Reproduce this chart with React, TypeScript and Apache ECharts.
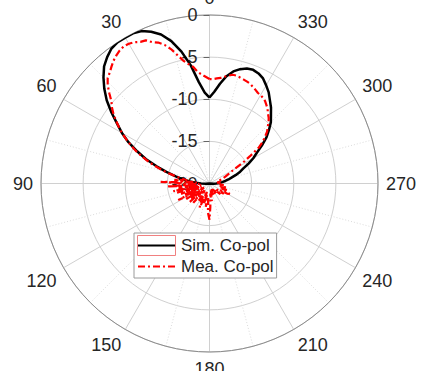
import React, { useEffect, useRef } from 'react';
import * as echarts from 'echarts';

const seriesNames = ['Sim. Co-pol', 'Mea. Co-pol'];

const simAngle = [0, 3, 6, 9, 12, 15, 18, 21, 24, 27, 30, 33, 36, 39, 42, 45, 48, 51, 54, 57, 60, 63, 66, 69, 72, 75, 78, 81, 84, 87, 90, 93, 96, 120, 150, 180, 210, 240, 264, 267, 270, 273, 276, 279, 282, 285, 288, 291, 294, 297, 300, 303, 306, 309, 312, 315, 318, 321, 324, 327, 330, 333, 336, 339, 342, 345, 348, 351, 354, 357, 360];
const simDb = [-9.8, -9.2, -7.9, -5.8, -4.0, -2.5, -1.4, -0.7, -0.2, 0, 0, 0, -0.2, -0.7, -1.3, -2.2, -3.2, -4.3, -5.6, -6.9, -8.0, -9.2, -10.6, -11.9, -13.4, -14.7, -15.9, -16.8, -17.6, -18.4, -19.0, -19.6, -20, -20, -20, -20, -20, -20, -20, -19.5, -19.2, -18.8, -18.5, -18.1, -17.7, -17.3, -16.7, -16.1, -15.6, -14.8, -14.0, -13.3, -12.3, -11.3, -10.5, -9.7, -9.1, -8.4, -7.8, -7.1, -6.55, -6.0, -5.7, -5.55, -5.65, -5.95, -6.4, -7.1, -8.1, -9.1, -9.8];

const meaAngle = [0, 3, 6, 8, 10, 12, 14, 16, 18, 20, 22, 24, 26, 28, 30, 32, 34, 36, 38, 40, 42, 44, 46, 48, 50, 52, 54, 56, 58, 60, 62, 64, 66, 68, 70, 72, 74, 76, 78, 80, 82,
  84, 86, 88, 90, 92, 94, 96, 98, 100, 102, 104, 106, 108, 110, 112, 114, 116, 118, 120, 122, 124, 126, 128, 130, 133, 136, 140, 144, 148, 152, 155, 158, 162, 165, 168, 171, 174, 177, 180, 182, 185, 188, 192, 196, 200, 205, 210, 215, 220, 225, 230, 234, 237, 240, 243, 246, 249, 252, 256, 260, 264, 268, 272, 276, 280, 285, 290, 294, 297, 300,
  302, 304, 306, 308, 310, 312, 314, 316, 318, 320, 322, 324, 326, 328, 330, 332, 334, 336, 338, 340, 342, 344, 346, 348, 350, 352, 354, 356, 358, 360];
const meaDb = [-7.6, -7.2, -6.7, -6.0, -5.6, -5.1, -4.3, -3.4, -2.7, -2.2, -1.9, -1.4, -1.3, -1.0, -0.85, -0.8, -0.95, -1.2, -1.5, -1.9, -2.3, -2.6, -3.2, -4.0, -4.8, -5.3, -5.9, -6.6, -7.3, -8.0, -8.8, -9.6, -10.4, -11.3, -12.2, -13.1, -14.1, -15.0, -15.9, -16.7, -17.3,
  -15.8, -18.5, -14.2, -17.0, -18.8, -15.0, -17.8, -16.3, -19.0, -15.6, -18.2, -16.0, -18.8, -16.4, -19.0, -16.8, -18.2, -15.8, -17.4, -18.6, -16.6, -19.2, -17.2, -18.4, -16.8, -18.8, -17.0, -19.0, -17.6, -18.8, -17.4, -16.9, -19.0, -17.5, -18.6, -17.2, -18.4, -16.5, -15.7, -17.2, -18.8, -17.9, -19.2, -18.4, -19.3, -18.6, -19.2, -18.5, -19.0, -18.2, -18.9, -17.9, -18.6, -17.6, -17.3, -18.4, -17.8, -18.8, -18.0, -18.9, -18.3, -19.0, -18.5, -19.1, -18.7, -18.9, -18.4, -17.9, -17.4, -16.6,
  -15.3, -14.2, -12.8, -12.0, -11.4, -10.8, -10.4, -9.9, -9.5, -9.2, -8.8, -8.5, -8.2, -8.0, -7.9, -7.8, -7.6, -7.4, -7.2, -7.1, -7.0, -6.9, -6.8, -6.8, -7.0, -7.2, -7.4, -7.5, -7.6, -7.6];

export default function App() {
  const ref = useRef<HTMLDivElement>(null);
  useEffect(() => {
    const chart = echarts.init(ref.current as HTMLDivElement, undefined, { renderer: 'svg' });
    const font = '"Liberation Sans", Arial, sans-serif';
    chart.setOption({
      animation: false,
      backgroundColor: '#ffffff',
      polar: { center: [209.5, 183.5], radius: 168.5 },
      angleAxis: {
        type: 'value',
        min: 0,
        max: 360,
        interval: 30,
        startAngle: 90,
        clockwise: false,
        axisLine: { lineStyle: { color: '#8c8c8c', width: 1 } },
        axisTick: { show: false },
        axisLabel: {
          fontSize: 18,
          color: '#262626',
          fontFamily: font,
          margin: 8,
          formatter: (v: number) => (v === 360 ? '' : String(v)),
        },
        splitLine: { show: true, lineStyle: { color: '#d0d0d0', width: 1 } },
        minorTick: { show: false, splitNumber: 2 },
        minorSplitLine: { show: true, lineStyle: { color: '#dcdcdc', width: 1, type: [1, 2] } },
      },
      radiusAxis: {
        type: 'value',
        min: -20,
        max: 0,
        interval: 5,
        axisLine: { show: false },
        axisTick: { show: true, length: 6, lineStyle: { color: '#666666' } },
        axisLabel: { fontSize: 18, color: '#262626', fontFamily: font, margin: 12 },
        splitLine: { show: true, lineStyle: { color: '#d0d0d0', width: 1 } },
      },
      legend: {
        data: seriesNames,
        orient: 'vertical',
        left: 134,
        top: 233,
        z: 5,
        padding: [4, 3, 3, 3],
        itemWidth: 38,
        itemHeight: 17,
        itemGap: 4,
        backgroundColor: '#ffffff',
        borderColor: '#9a9a9a',
        borderWidth: 1,
        borderRadius: 0,
        itemStyle: { opacity: 0 },
        textStyle: { fontSize: 17, color: '#262626', fontFamily: font, lineHeight: 17 },
      },
      graphic: [
        {
          type: 'rect',
          z: 200,
          silent: true,
          shape: { x: 137.5, y: 235.5, width: 38, height: 20 },
          style: { fill: 'transparent', stroke: '#f08080', lineWidth: 1 },
        },
      ],
      series: [
        {
          name: seriesNames[0],
          type: 'line',
          coordinateSystem: 'polar',
          showSymbol: false,
          symbol: 'none',
          smooth: false,
          z: 3,
          lineStyle: { color: '#000000', width: 2.5 },
          itemStyle: { color: '#000000' },
          data: simAngle.map((a, i) => [simDb[i], a]),
        },
        {
          name: seriesNames[1],
          type: 'line',
          coordinateSystem: 'polar',
          showSymbol: false,
          symbol: 'none',
          z: 4,
          lineStyle: { color: '#ff0000', width: 2.2, type: [7, 3, 2, 3] },
          itemStyle: { color: '#ff0000' },
          data: meaAngle.map((a, i) => [meaDb[i], a]),
        },
      ],
    });
    return () => chart.dispose();
  }, []);
  return <div ref={ref} style={{ position: 'fixed', left: 0, top: 0, width: 422, height: 371 }} />;
}
